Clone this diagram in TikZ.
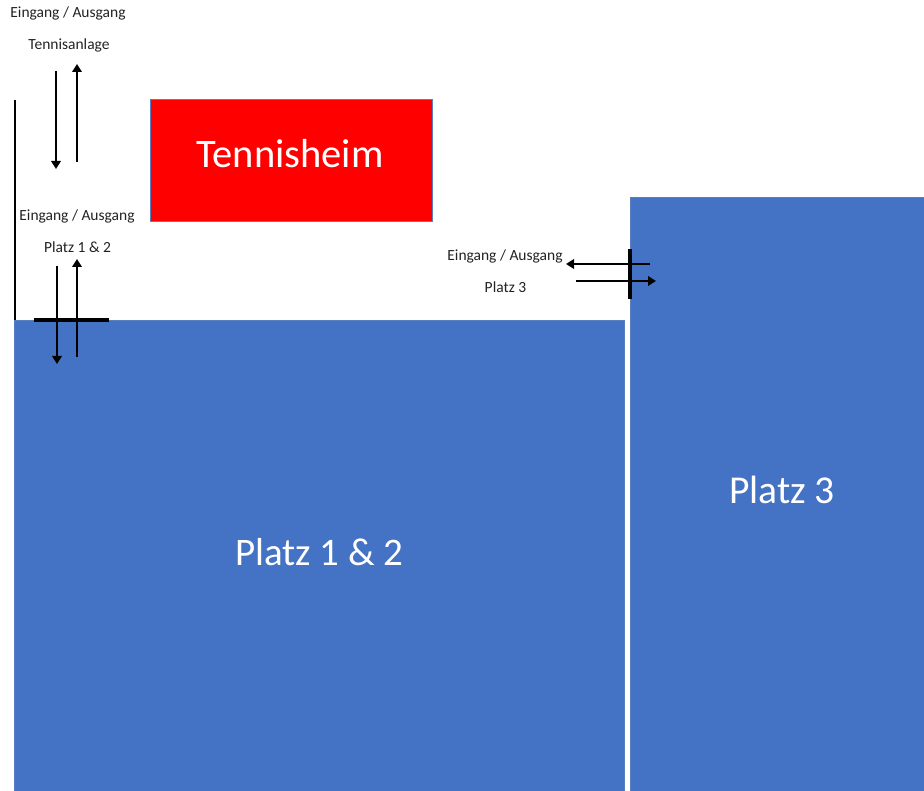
\documentclass[tikz,border=0pt]{standalone}
\usepackage{fontspec}
\setmainfont{Carlito}
\usetikzlibrary{arrows.meta}
\definecolor{platzblue}{HTML}{4472C4}
\definecolor{edgeblue}{HTML}{5A7FC0}
\definecolor{labelgrey}{HTML}{222222}
\tikzset{
  court/.style={fill=platzblue,draw=edgeblue,line width=0.4pt,inner sep=0pt},
  clubhouse/.style={fill=red,draw=edgeblue,line width=0.4pt,inner sep=0pt},
  biglabel/.style={text=white,inner sep=0pt},
  caption/.style={text=labelgrey,font=\fontsize{15.5}{17}\selectfont,inner sep=0pt},
  flow/.style={line width=2.7pt,black,-{Triangle[length=8pt,width=9.5pt]}},
  barrier/.style={line width=3.6pt,black},
  fence/.style={line width=2.8pt,black}
}
\begin{document}
\begin{tikzpicture}[x=1pt,y=-1pt]
\useasboundingbox (0,0) rectangle (924,791);
\node[court,minimum width=609.5pt,minimum height=471pt,anchor=north west] (p12box) at (14,320.5) {};
\node[court,minimum width=295pt,minimum height=594pt,anchor=north west] (p3box) at (629.5,197.5) {};
\node[clubhouse,minimum width=282.5pt,minimum height=122pt,anchor=north west] (heim) at (149.5,99.5) {};
\node[biglabel,font=\fontsize{40.5}{44}\selectfont] at (290,154) {Tennisheim};
\node[biglabel,font=\fontsize{39}{44}\selectfont] (p12) at (319.5,552) {Platz 1 \& 2};
\node[biglabel,font=\fontsize{39.5}{44}\selectfont] (p3) at (782,490) {Platz 3};
\node[caption] (e1) at (68,13.5) {Eingang / Ausgang};
\node[caption] (t1) at (69,45.5) {Tennisanlage};
\node[caption] (e2) at (77,216.5) {Eingang / Ausgang};
\node[caption] (t2) at (77.5,247.5) {Platz 1 \& 2};
\node[caption] (e3) at (505,256.5) {Eingang / Ausgang};
\node[caption] (t3) at (505.5,287.5) {Platz 3};
\coordinate (a1s) at (56,71);   \coordinate (a1e) at (56,169);
\coordinate (a2s) at (77,162);  \coordinate (a2e) at (77,64);
\coordinate (a3s) at (57,266);  \coordinate (a3e) at (57,364);
\coordinate (a4s) at (77,357);  \coordinate (a4e) at (77,259);
\coordinate (a5s) at (650,264); \coordinate (a5e) at (566,264);
\coordinate (a6s) at (576,281); \coordinate (a6e) at (656,281);
\coordinate (f1) at (15,100);   \coordinate (f2) at (15,320);
\coordinate (b1) at (34,320);   \coordinate (b2) at (109,320);
\coordinate (b3) at (630,249);  \coordinate (b4) at (630,299);
\draw[fence] (f1) -- (f2);
\draw[flow] (a1s) -- (a1e);
\draw[flow] (a2s) -- (a2e);
\draw[flow] (a3s) -- (a3e);
\draw[flow] (a4s) -- (a4e);
\draw[flow] (a5s) -- (a5e);
\draw[flow] (a6s) -- (a6e);
\draw[barrier] (b1) -- (b2);
\draw[barrier] (b3) -- (b4);
\end{tikzpicture}
\end{document}
